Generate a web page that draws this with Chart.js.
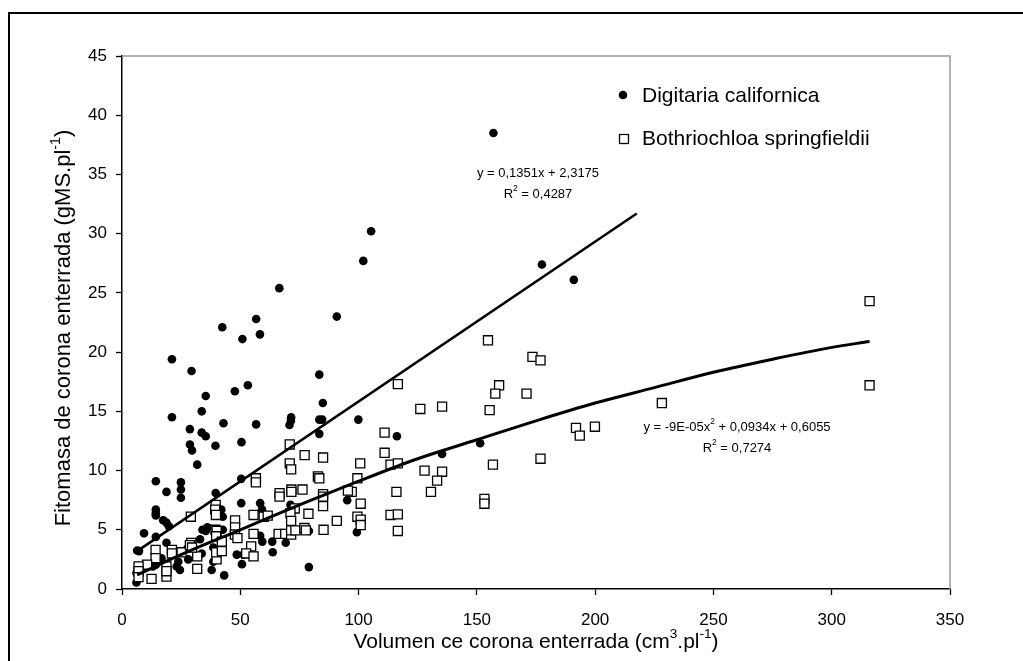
<!DOCTYPE html>
<html>
<head>
<meta charset="utf-8">
<script src="https://cdn.jsdelivr.net/npm/chart.js@4.4.1/dist/chart.umd.min.js"></script>
<style>
  html, body { margin: 0; padding: 0; background: #fff; }
  #wrap { width: 1023px; height: 661px; position: relative; }
</style>
</head>
<body>
<div id="wrap"><canvas id="chart"></canvas></div>
<script>
//Digitaria californica (filled circles)
var digX = [157, 105.3, 102, 177.5, 191, 66.5, 90.8, 42.4, 56.7, 58.3, 50.9, 21.1, 29.4, 83.4, 47.7, 53.2, 35.4, 84.9, 21.1, 33.7,
            42.9, 56.7, 71.5, 71.4, 70.8, 83.4, 84.6, 99.9, 83.4, 28.7, 33.7, 35.4, 28.7, 29.6, 39.5, 50.5, 31.8, 116.2, 151.4, 135.3,
            14.3, 24.9, 24.9, 24.9, 18.8, 50.4, 39.6, 50.4, 71.2, 95.2, 14.3, 14.3, 14.3, 17.4, 18.8, 19.8, 9.3, 14.3, 42.0, 42.6,
            34.0, 35.4, 36.1, 42.6, 58.4, 59.3, 63.5, 69.2, 63.7, 79, 6.4, 7.2, 18.8, 33, 33.7, 38.6, 51.4, 48.5, 50.7, 38.6,
            37.9, 43.2, 79, 6.1, 6.1, 14.3, 13, 16.7, 18.8, 23.1, 24.5, 23.8, 28, 31.5, 27.5, 22.7, 99.3, 58.4, 59.2];
var digY = [38.5, 30.2, 27.7, 27.4, 26.1, 25.4, 23.0, 22.1, 22.8, 21.5, 21.1, 19.4, 18.4, 18.1, 16.7, 17.2, 16.3, 15.7, 14.5, 15.0,
            14.0, 13.9, 14.5, 14.2, 13.85, 14.3, 14.3, 14.3, 13.1, 13.5, 13.2, 12.9, 12.2, 11.7, 12.1, 12.4, 10.5, 12.9, 12.3, 11.4,
            9.1, 9.0, 8.4, 7.7, 8.2, 9.3, 8.1, 7.25, 7.1, 7.5, 6.7, 6.4, 6.2, 5.8, 5.6, 5.3, 4.7, 4.4, 6.7, 6.1,
            5.0, 4.9, 5.2, 5.0, 4.5, 4.0, 4.0, 3.9, 3.1, 4.9, 3.25, 3.2, 3.9, 4.2, 3.0, 3.5, 2.9, 2.9, 2.1, 2.3,
            1.6, 1.15, 1.85, 0.55, 1.35, 2.05, 1.9, 2.6, 2.1, 1.9, 1.6, 2.3, 2.5, 2.8, 3.4, 3.0, 4.8, 7.25, 6.7];

//Bothriochloa springfieldii (open squares)
var botX = [316, 316, 228.2, 154.7, 173.5, 176.9, 116.6, 159.4, 157.8, 171, 126.1, 135.3, 155.4, 111, 111, 191.9, 193.5, 199.9, 176.9, 156.8,
            113.5, 116.6, 100.7, 99.5, 97.1, 127.9, 135.3, 133.2, 130.6, 116, 100.9, 99.5, 100.9, 100.9, 113.5, 116.6, 116.6, 153.2, 153.2, 70.9,
            77.2, 85, 70.9, 71.5, 56.6, 56.6, 82.8, 83.4, 66.6, 66.6, 71.6, 71.6, 76.3, 85, 85, 95.5, 39.6, 39.4, 39.7, 85,
            73, 78.8, 29.1, 55.6, 59.9, 61.6, 47.8, 47.8, 71.2, 71.5, 90.8, 39.5, 40, 47.7, 48.8, 55.6, 66.2, 69, 71.5, 71.5,
            73.3, 77.1, 77.7, 85.2, 54.6, 52.5, 55.6, 39.8, 42.2, 29.3, 21.1, 21.1, 25.2, 14.2, 14.2, 31.8, 10.6, 7, 7, 7,
            18.8, 18.8, 12.5, 31.8, 28.7, 29.6, 40, 39.8, 42.2, 18.8];
var botY = [24.3, 17.2, 15.7, 21.0, 19.6, 19.3, 17.3, 17.2, 16.5, 16.5, 15.2, 15.4, 15.1, 13.2, 11.5, 13.6, 12.95, 13.7, 11.0, 10.5,
            10.5, 10.6, 10.6, 9.35, 8.2, 10.0, 9.9, 9.15, 8.2, 8.2, 7.2, 6.1, 5.85, 5.4, 6.25, 6.3, 4.9, 7.6, 7.2, 12.2,
            11.3, 11.1, 10.6, 10.1, 9.35, 9.0, 9.5, 9.35, 8.1, 7.8, 8.4, 8.2, 8.4, 8.0, 7.8, 8.3, 7.1, 6.7, 6.25, 7.0,
            6.8, 6.35, 6.1, 6.25, 6.1, 6.2, 5.8, 5.2, 6.4, 5.75, 5.75, 5.0, 4.9, 4.6, 4.3, 4.65, 4.65, 4.65, 4.6, 4.95,
            4.95, 5.15, 4.95, 5.0, 3.6, 3.0, 2.75, 4.45, 4.0, 3.9, 3.3, 3.0, 3.1, 3.3, 2.6, 2.75, 2.05, 1.9, 1.5, 1.0,
            1.9, 1.05, 0.85, 1.7, 3.7, 3.5, 2.5, 3.1, 3.2, 1.5];

//Trend lines as drawn in the picture
var linX = [6.4, 217.6];
var linY = [3.2, 31.7];
var curveX = [6.4, 25, 50, 75, 100, 125, 150, 175, 200, 225, 250, 275, 300, 316];
var curveY = [1.2, 2.9, 5.0, 7.1, 9.1, 11.0, 12.6, 14.2, 15.7, 17.0, 18.3, 19.4, 20.4, 20.9];

var seriesNames = ['Digitaria californica', 'Bothriochloa springfieldii'];
var xTicks = [0, 50, 100, 150, 200, 250, 300, 350];
var yTicks = [0, 5, 10, 15, 20, 25, 30, 35, 40, 45];

const FONT = '"Liberation Sans", Arial, sans-serif';

const toPoints = (xs, ys) => xs.map((x, i) => ({x: x, y: ys[i]}));

/*
    Draws text made of pieces, some of them superscript, centred on (cx, cy)
*/
function drawRich(ctx, parts, cx, cy, size)
{
    var widths = parts.map(p => {
        ctx.font = (p[1] ? size * 0.65 : size) + 'px ' + FONT;
        return ctx.measureText(p[0]).width;
    });
    var total = widths.reduce((a, b) => a + b, 0);
    var x = cx - total / 2;
    ctx.textBaseline = 'middle';
    ctx.textAlign = 'left';
    parts.forEach((p, i) => {
        ctx.font = (p[1] ? size * 0.65 : size) + 'px ' + FONT;
        ctx.fillText(p[0], x, p[1] ? cy - size * 0.38 : cy);
        x += widths[i];
    });
}

const extras = {
    id: 'extras',
    afterDraw(chart) {
        const ctx = chart.ctx, a = chart.chartArea;
        ctx.save();
        //outer frame
        ctx.strokeStyle = '#000';
        ctx.lineWidth = 2;
        ctx.beginPath();
        ctx.moveTo(9, 661);
        ctx.lineTo(9, 13);
        ctx.lineTo(1023, 13);
        ctx.stroke();
        //plot frame top and right
        ctx.strokeStyle = '#999';
        ctx.lineWidth = 1.5;
        ctx.beginPath();
        ctx.moveTo(a.left, a.top);
        ctx.lineTo(a.right, a.top);
        ctx.lineTo(a.right, a.bottom);
        ctx.stroke();

        ctx.fillStyle = '#000';
        //legend
        ctx.beginPath();
        ctx.arc(623, 95, 4.3, 0, Math.PI * 2);
        ctx.fill();
        ctx.strokeStyle = '#000';
        ctx.lineWidth = 1.3;
        ctx.strokeRect(619.5, 134.5, 9, 9);
        ctx.font = '21px ' + FONT;
        ctx.textBaseline = 'middle';
        ctx.textAlign = 'left';
        ctx.fillText(seriesNames[0], 642, 96);
        ctx.fillText(seriesNames[1], 642, 139);

        //equations
        drawRich(ctx, [['y = 0,1351x + 2,3175', false]], 538, 173, 13);
        drawRich(ctx, [['R', false], ['2', true], [' = 0,4287', false]], 538, 194, 13);
        drawRich(ctx, [['y = -9E-05x', false], ['2', true], [' + 0,0934x + 0,6055', false]], 737, 427, 13);
        drawRich(ctx, [['R', false], ['2', true], [' = 0,7274', false]], 737, 448, 13);

        //axis titles
        drawRich(ctx, [['Volumen ce corona enterrada (cm', false], ['3', true], ['.pl', false], ['-1', true], [')', false]], 536, 642, 21);
        ctx.translate(64, 328);
        ctx.rotate(-Math.PI / 2);
        drawRich(ctx, [['Fitomasa de corona enterrada (gMS.pl', false], ['-1', true], [')', false]], 0, 0, 22);
        ctx.restore();
    }
};

Chart.defaults.color = '#000';
Chart.defaults.font.family = FONT;

new Chart(document.getElementById('chart'), {
    type: 'scatter',
    data: {
        datasets: [{
            label: 'lineal',
            data: toPoints(linX, linY),
            showLine: true,
            borderColor: '#000',
            borderWidth: 2.5,
            pointRadius: 0,
            order: 0
        }, {
            label: 'polinomica',
            data: toPoints(curveX, curveY),
            showLine: true,
            borderColor: '#000',
            borderWidth: 3,
            pointRadius: 0,
            cubicInterpolationMode: 'monotone',
            order: 0
        }, {
            label: seriesNames[1],
            data: toPoints(botX, botY),
            pointStyle: 'rect',
            pointRadius: 6.4,
            backgroundColor: '#fff',
            borderColor: '#000',
            borderWidth: 1.3,
            order: 1
        }, {
            label: seriesNames[0],
            data: toPoints(digX, digY),
            pointStyle: 'circle',
            pointRadius: 4.3,
            backgroundColor: '#000',
            borderColor: '#000',
            borderWidth: 0,
            order: 2
        }]
    },
    options: {
        responsive: true,
        maintainAspectRatio: false,
        animation: false,
        layout: {padding: {left: 0, right: 73, top: 56, bottom: 0}},
        plugins: {legend: {display: false}, tooltip: {enabled: false}},
        scales: {
            x: {
                type: 'linear',
                min: xTicks[0],
                max: xTicks[xTicks.length - 1],
                afterBuildTicks: s => { s.ticks = xTicks.map(v => ({value: v})); },
                afterFit: s => { s.height = 72; },
                grid: {drawOnChartArea: false, tickLength: 6, tickColor: '#000', tickWidth: 1.3},
                border: {color: '#000', width: 1.5},
                ticks: {font: {size: 17}, padding: 15, maxRotation: 0}
            },
            y: {
                type: 'linear',
                min: yTicks[0],
                max: yTicks[yTicks.length - 1],
                afterBuildTicks: s => { s.ticks = yTicks.map(v => ({value: v})); },
                afterFit: s => { s.width = 122; },
                grid: {drawOnChartArea: false, tickLength: 6, tickColor: '#000', tickWidth: 1.3},
                border: {color: '#000', width: 1.5},
                ticks: {font: {size: 17}, padding: 9}
            }
        }
    },
    plugins: [extras]
});
</script>
</body>
</html>
